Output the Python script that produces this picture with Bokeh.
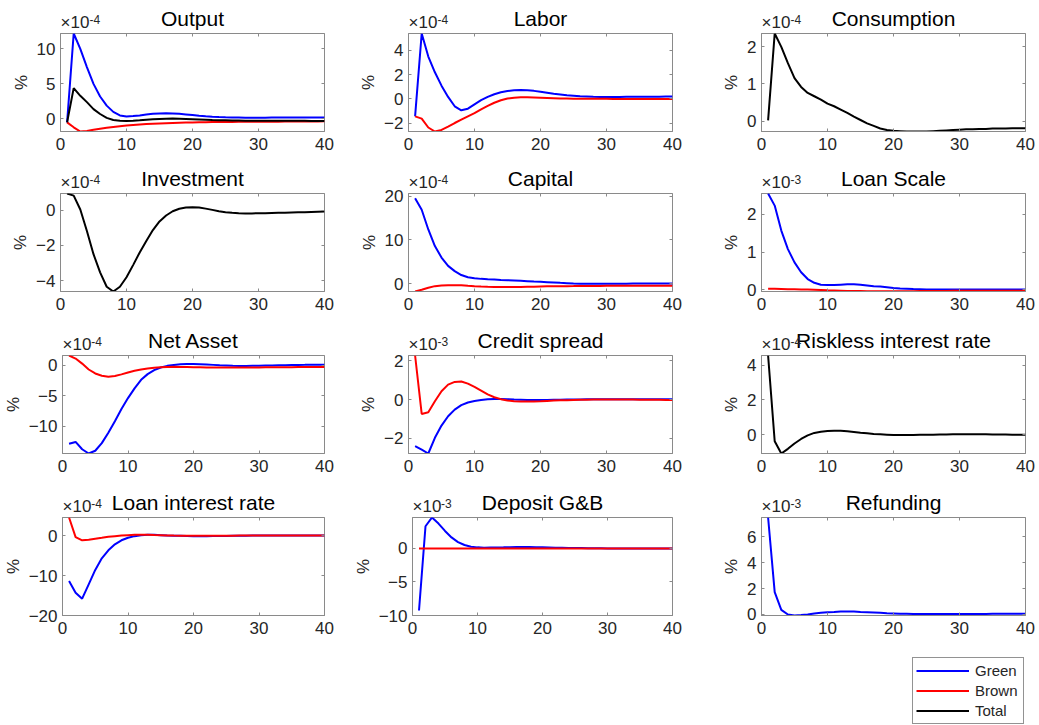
from bokeh.plotting import figure
from bokeh.layouts import row, column
from bokeh.models import Label, FixedTicker, LinearAxis, Range1d, Legend, LegendItem
from bokeh.embed import file_html
from bokeh.resources import INLINE

# ---------------- data (values in the units shown on each axis) ----------------
periods = list(range(1, 41))

output_green = [-0.5, 12.2, 10.0, 7.4, 5.0, 3.2, 1.9, 1.0, 0.5, 0.35, 0.4, 0.5, 0.62, 0.72, 0.78, 0.8, 0.78, 0.72, 0.64, 0.55,
                0.46, 0.38, 0.31, 0.26, 0.22, 0.2, 0.19, 0.18, 0.18, 0.18, 0.18, 0.19, 0.19, 0.19, 0.2, 0.2, 0.2, 0.2, 0.2, 0.2]
output_brown = [-0.5, -1.2, -1.8, -1.72, -1.55, -1.4, -1.27, -1.15, -1.04, -0.95, -0.87, -0.8, -0.74, -0.69, -0.65, -0.61, -0.58, -0.55, -0.52, -0.5,
                -0.48, -0.47, -0.46, -0.45, -0.44, -0.43, -0.42, -0.41, -0.41, -0.4, -0.4, -0.39, -0.39, -0.38, -0.38, -0.37, -0.37, -0.36, -0.36, -0.35]
output_total = [-0.5, 4.4, 3.3, 2.4, 1.4, 0.7, 0.15, -0.15, -0.28, -0.3, -0.26, -0.2, -0.12, -0.05, 0.0, 0.03, 0.04, 0.03, 0.0, -0.04,
                -0.08, -0.12, -0.16, -0.19, -0.21, -0.23, -0.24, -0.25, -0.26, -0.26, -0.27, -0.27, -0.27, -0.28, -0.28, -0.28, -0.28, -0.29, -0.29, -0.3]

labor_green = [-1.43, 5.4, 3.5, 2.2, 1.1, 0.17, -0.6, -0.93, -0.8, -0.44, -0.1, 0.17, 0.39, 0.55, 0.66, 0.72, 0.74, 0.72, 0.67, 0.6,
               0.52, 0.44, 0.37, 0.3, 0.26, 0.22, 0.2, 0.18, 0.17, 0.17, 0.17, 0.17, 0.18, 0.18, 0.18, 0.19, 0.19, 0.19, 0.2, 0.2]
labor_brown = [-1.43, -1.62, -2.35, -2.68, -2.55, -2.28, -1.98, -1.7, -1.43, -1.16, -0.85, -0.57, -0.31, -0.1, 0.04, 0.11, 0.14, 0.14, 0.13, 0.11,
               0.09, 0.07, 0.05, 0.04, 0.03, 0.02, 0.02, 0.01, 0.01, 0.01, 0.0, 0.0, 0.0, 0.0, 0.0, 0.0, 0.0, 0.0, 0.0, 0.0]

consumption_total = [0.02, 2.36, 2.0, 1.56, 1.16, 0.92, 0.76, 0.67, 0.58, 0.47, 0.4, 0.31, 0.22, 0.12, 0.03, -0.06, -0.13, -0.2, -0.24, -0.26,
                     -0.27, -0.28, -0.28, -0.28, -0.28, -0.27, -0.26, -0.25, -0.24, -0.23, -0.22, -0.22, -0.21, -0.21, -0.2, -0.2, -0.2, -0.19, -0.19, -0.19]

investment_total = [0.95, 0.83, 0.04, -1.18, -2.5, -3.53, -4.35, -4.62, -4.35, -3.81, -3.12, -2.4, -1.75, -1.13, -0.64, -0.3, -0.06, 0.08, 0.15, 0.17,
                    0.15, 0.09, 0.02, -0.06, -0.11, -0.15, -0.17, -0.18, -0.18, -0.17, -0.17, -0.16, -0.15, -0.14, -0.13, -0.12, -0.11, -0.1, -0.09, -0.08]

capital_green = [19.5, 16.9, 12.4, 8.6, 6.0, 4.1, 2.9, 2.0, 1.5, 1.28, 1.13, 1.05, 1.0, 0.9, 0.82, 0.75, 0.68, 0.6, 0.52, 0.45,
                 0.38, 0.3, 0.22, 0.15, 0.08, 0.03, 0.0, 0.0, 0.0, 0.0, 0.02, 0.03, 0.04, 0.05, 0.05, 0.05, 0.05, 0.05, 0.05, 0.05]
capital_brown = [-1.73, -1.35, -0.9, -0.53, -0.38, -0.3, -0.3, -0.35, -0.45, -0.53, -0.6, -0.66, -0.7, -0.74, -0.75, -0.75, -0.72, -0.68, -0.64, -0.6,
                 -0.58, -0.56, -0.54, -0.53, -0.52, -0.5, -0.49, -0.48, -0.47, -0.46, -0.45, -0.45, -0.45, -0.45, -0.45, -0.45, -0.45, -0.45, -0.45, -0.45]

loanscale_green = [2.55, 2.23, 1.57, 1.08, 0.73, 0.47, 0.29, 0.19, 0.14, 0.13, 0.13, 0.14, 0.15, 0.15, 0.14, 0.12, 0.1, 0.09, 0.07, 0.05,
                   0.04, 0.035, 0.025, 0.02, 0.015, 0.01, 0.01, 0.01, 0.01, 0.01, 0.01, 0.01, 0.01, 0.01, 0.01, 0.01, 0.01, 0.01, 0.01, 0.01]
loanscale_brown = [0.03, 0.03, 0.025, 0.02, 0.02, 0.015, 0.01, 0.005, 0.0, -0.01, -0.015, -0.02, -0.025, -0.03, -0.03, -0.032, -0.034, -0.035, -0.035, -0.035,
                   -0.034, -0.033, -0.032, -0.03, -0.03, -0.028, -0.026, -0.024, -0.022, -0.02, -0.02, -0.02, -0.02, -0.02, -0.02, -0.02, -0.02, -0.02, -0.02, -0.02]

netasset_green = [-12.9, -12.6, -13.8, -14.5, -14.05, -12.8, -11.1, -9.2, -7.2, -5.4, -3.8, -2.4, -1.46, -0.8, -0.38, -0.1, 0.05, 0.16, 0.2, 0.2,
                  0.17, 0.12, 0.06, 0.0, -0.05, -0.1, -0.12, -0.12, -0.1, -0.08, -0.06, -0.04, -0.02, 0.0, 0.03, 0.05, 0.06, 0.08, 0.09, 0.1]
netasset_brown = [1.6, 1.1, 0.27, -0.7, -1.35, -1.73, -1.9, -1.78, -1.5, -1.2, -0.92, -0.7, -0.54, -0.43, -0.32, -0.27, -0.26, -0.27, -0.29, -0.32,
                  -0.34, -0.36, -0.37, -0.38, -0.38, -0.38, -0.38, -0.38, -0.37, -0.36, -0.35, -0.34, -0.33, -0.32, -0.31, -0.3, -0.29, -0.28, -0.27, -0.27]

spread_green = [-2.4, -2.58, -2.78, -1.97, -1.34, -0.86, -0.52, -0.29, -0.15, -0.07, -0.02, 0.02, 0.03, 0.03, 0.02, 0.0, -0.01, -0.02, -0.02, -0.02,
                -0.02, -0.01, -0.01, 0.0, 0.0, 0.0, 0.01, 0.01, 0.01, 0.02, 0.02, 0.02, 0.02, 0.02, 0.02, 0.02, 0.02, 0.02, 0.02, 0.02]
spread_brown = [2.27, -0.74, -0.65, -0.09, 0.43, 0.77, 0.91, 0.93, 0.82, 0.65, 0.46, 0.27, 0.12, 0.02, -0.05, -0.09, -0.1, -0.1, -0.1, -0.09,
                -0.07, -0.05, -0.04, -0.03, -0.02, -0.01, -0.01, 0.0, 0.0, 0.0, 0.0, 0.0, 0.0, 0.0, -0.01, -0.01, -0.01, -0.01, -0.02, -0.02]

riskless_total = [4.57, -0.38, -1.09, -0.82, -0.51, -0.25, -0.04, 0.1, 0.17, 0.21, 0.23, 0.22, 0.19, 0.15, 0.11, 0.08, 0.04, 0.02, 0.0, -0.02,
                  -0.02, -0.02, -0.02, -0.01, -0.01, 0.0, 0.01, 0.01, 0.02, 0.02, 0.02, 0.02, 0.02, 0.02, 0.01, 0.01, 0.01, 0.0, 0.0, 0.0]

loanrate_green = [-11.4, -14.3, -15.8, -12.2, -8.6, -5.7, -3.7, -2.2, -1.2, -0.57, -0.16, 0.08, 0.16, 0.16, 0.08, 0.0, -0.04, -0.08, -0.12, -0.16,
                  -0.16, -0.16, -0.14, -0.12, -0.1, -0.08, -0.06, -0.04, -0.02, 0.0, 0.0, 0.0, 0.0, 0.0, 0.0, 0.0, 0.0, 0.0, 0.0, 0.0]
loanrate_brown = [4.5, -0.4, -1.2, -1.06, -0.8, -0.57, -0.33, -0.16, 0.0, 0.08, 0.16, 0.16, 0.16, 0.1, 0.08, 0.0, -0.03, -0.05, -0.07, -0.08,
                  -0.08, -0.08, -0.07, -0.06, -0.05, -0.04, -0.03, -0.02, -0.01, 0.0, 0.0, 0.0, 0.0, 0.0, 0.0, 0.0, 0.0, 0.0, 0.0, 0.0]

deposit_green = [-9.25, 3.3, 4.6, 3.7, 2.6, 1.63, 0.94, 0.5, 0.25, 0.15, 0.1, 0.12, 0.14, 0.15, 0.17, 0.2, 0.2, 0.2, 0.18, 0.16,
                 0.13, 0.1, 0.08, 0.06, 0.05, 0.04, 0.03, 0.02, 0.01, 0.0, 0.0, 0.0, 0.0, 0.0, 0.0, 0.0, 0.0, 0.0, 0.0, 0.0]
deposit_brown = [0.0, 0.0, 0.0, 0.0, 0.0, 0.0, 0.0, 0.0, 0.0, 0.0, 0.0, 0.0, 0.0, 0.0, 0.0, 0.0, 0.0, 0.0, 0.0, 0.0,
                 0.0, 0.0, 0.0, 0.0, 0.0, 0.0, 0.0, 0.0, 0.0, 0.0, 0.0, 0.0, 0.0, 0.0, 0.0, 0.0, 0.0, 0.0, 0.0, 0.0]

refunding_green = [7.5, 1.73, 0.36, 0.0, -0.08, -0.05, 0.0, 0.08, 0.13, 0.18, 0.2, 0.23, 0.23, 0.23, 0.2, 0.18, 0.16, 0.13, 0.1, 0.08,
                   0.06, 0.05, 0.04, 0.03, 0.03, 0.03, 0.03, 0.03, 0.03, 0.03, 0.04, 0.04, 0.04, 0.04, 0.05, 0.05, 0.05, 0.05, 0.05, 0.05]

titles = ["Output", "Labor", "Consumption", "Investment", "Capital", "Loan Scale",
          "Net Asset", "Credit spread", "Riskless interest rate", "Loan interest rate", "Deposit G&B", "Refunding"]
exponents = ["-4", "-4", "-4", "-4", "-4", "-3", "-4", "-3", "-4", "-4", "-3", "-3"]
y_ticks = [[0, 5, 10], [-2, 0, 2, 4], [0, 1, 2], [-4, -2, 0], [0, 10, 20], [0, 1, 2],
           [-10, -5, 0], [-2, 0, 2], [0, 2, 4], [-20, -10, 0], [-10, -5, 0], [0, 2, 4, 6]]
y_limits = [(-1.8, 12.2), (-2.68, 5.4), (-0.28, 2.36), (-4.62, 0.95), (-1.75, 20.6), (-0.04, 2.55),
            (-14.5, 1.6), (-2.78, 2.27), (-1.09, 4.57), (-20.0, 4.5), (-10.0, 4.6), (-0.08, 7.5)]
x_ticks = [0, 10, 20, 30, 40]
series_names = ["Green", "Brown", "Total"]
panel_series = [
    {"Green": output_green, "Brown": output_brown, "Total": output_total},
    {"Green": labor_green, "Brown": labor_brown},
    {"Total": consumption_total},
    {"Total": investment_total},
    {"Green": capital_green, "Brown": capital_brown},
    {"Green": loanscale_green, "Brown": loanscale_brown},
    {"Green": netasset_green, "Brown": netasset_brown},
    {"Green": spread_green, "Brown": spread_brown},
    {"Total": riskless_total},
    {"Green": loanrate_green, "Brown": loanrate_brown},
    {"Green": deposit_green, "Brown": deposit_brown},
    {"Green": refunding_green},
]

# ---------------- style / layout (Bokeh's page template has no body margin) ----------------
COLORS = {"Green": "#0000ff", "Brown": "#ff0000", "Total": "#000000"}
FONT = "Liberation Sans"
TEXT = "#262626"
BOX = "#8a8a8a"
COL_W = [350, 355, 334]
COL_LEFT = [60, 58, 56]
FRAME_W = 264
FRAME_H = 98
STRIP_H = 32
OVERLAP = 10          # panel's transparent top border slides under the heading strip
PANEL_TOP = 1 + OVERLAP
PANEL_BOTTOM = [29, 31, 31, 31]
LEGEND_H = 78


def blank(width, height, left):
    """Text-only figure whose frame lines up with the panel frame below it."""
    right = width - left - FRAME_W
    f = figure(width=width, height=height, x_range=Range1d(0, FRAME_W), y_range=Range1d(0, height),
               min_border_left=left, min_border_right=right, min_border_top=0, min_border_bottom=0,
               x_axis_location=None, y_axis_location=None, title=None,
               output_backend="svg", toolbar_location=None)
    f.outline_line_color = None
    f.xgrid.visible = False
    f.ygrid.visible = False
    f.background_fill_color = "white"
    f.border_fill_color = "white"
    return f


cells = []
for i, title in enumerate(titles):
    r, c = divmod(i, 3)
    y0, y1 = y_limits[i]
    left = COL_LEFT[c]

    # heading strip: title and exponent marker (text boxes positioned by their middle)
    s = blank(COL_W[c], STRIP_H, left)
    s.add_layout(Label(x=FRAME_W / 2, y=14.3, text=title, text_align="center", text_baseline="middle",
                       text_font=FONT, text_font_size="21px", text_color="#000000"))
    s.add_layout(Label(x=0, y=9.7, text="×10", text_align="left", text_baseline="middle",
                       text_font=FONT, text_font_size="17px", text_color=TEXT))
    s.add_layout(Label(x=29, y=12.8, text=exponents[i], text_align="left", text_baseline="middle",
                       text_font=FONT, text_font_size="12px", text_color=TEXT))

    p = figure(width=COL_W[c], height=PANEL_TOP + FRAME_H + PANEL_BOTTOM[r],
               min_border_left=left, min_border_right=COL_W[c] - left - FRAME_W,
               min_border_top=PANEL_TOP, min_border_bottom=PANEL_BOTTOM[r],
               x_range=Range1d(0, 40), y_range=Range1d(y0, y1), title=None,
               output_backend="svg", toolbar_location=None, margin=(-OVERLAP, 0, 0, 0))
    p.xgrid.visible = False
    p.ygrid.visible = False
    p.outline_line_color = BOX
    p.outline_line_width = 1
    p.background_fill_color = "white"
    p.border_fill_color = None
    p.border_fill_alpha = 0

    for ax, ticks in ((p.xaxis[0], x_ticks), (p.yaxis[0], y_ticks[i])):
        ax.ticker = FixedTicker(ticks=ticks)
        ax.axis_line_color = BOX
        ax.major_tick_line_color = BOX
        ax.major_tick_in = 3
        ax.major_tick_out = 0
        ax.minor_tick_line_color = None
        ax.major_label_text_font = FONT
        ax.major_label_text_font_size = "17px"
        ax.major_label_text_color = TEXT
    p.xaxis.major_label_standoff = 6
    p.yaxis.major_label_standoff = 5
    p.yaxis.axis_label = "%"
    p.yaxis.axis_label_standoff = 3
    p.yaxis.axis_label_text_font = FONT
    p.yaxis.axis_label_text_font_size = "17px"
    p.yaxis.axis_label_text_font_style = "normal"
    p.yaxis.axis_label_text_color = TEXT

    for loc, ticks in (("right", y_ticks[i]), ("above", x_ticks)):
        ax2 = LinearAxis(ticker=FixedTicker(ticks=ticks), major_label_text_font_size="1px",
                         major_label_text_color=None, major_label_standoff=0,
                         major_tick_in=3, major_tick_out=0,
                         major_tick_line_color=BOX, axis_line_color=None, minor_tick_line_color=None)
        p.add_layout(ax2, loc)

    for name in series_names:
        if name in panel_series[i]:
            p.line(periods, panel_series[i][name], line_color=COLORS[name], line_width=2)

    parts = [s, p]
    if i == len(titles) - 1:
        lg = blank(COL_W[c], LEGEND_H, left)
        # legend keys: the Output panel's three series, on a range that keeps them out of view
        lg.extra_x_ranges = {"offview": Range1d(1000, 2000)}
        rends = {n: lg.line(periods, panel_series[0][n], line_color=COLORS[n], line_width=2,
                            x_range_name="offview") for n in series_names}
        legend = Legend(items=[LegendItem(label=n, renderers=[rends[n]]) for n in series_names],
                        location=(151, 0), glyph_width=53, glyph_height=19, label_height=19,
                        label_width=45, spacing=1, padding=3, margin=0, label_standoff=6,
                        label_text_font=FONT, label_text_font_size="15px", label_text_color=TEXT,
                        border_line_color=TEXT, border_line_width=1, background_fill_color="white",
                        background_fill_alpha=1.0)
        lg.add_layout(legend, "center")
        parts.append(lg)
    cells.append(column(*parts))

layout = column(row(*cells[0:3]), row(*cells[3:6]), row(*cells[6:9]), row(*cells[9:12]))
open("out.html", "w").write(file_html(layout, INLINE))
